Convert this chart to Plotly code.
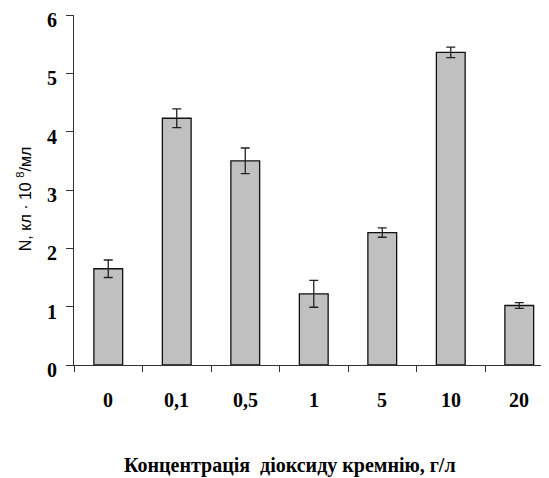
import plotly.graph_objects as go

categories = ["0", "0,1", "0,5", "1", "5", "10", "20"]
values = [1.65, 4.23, 3.50, 1.22, 2.27, 5.36, 1.02]
errors = [0.15, 0.16, 0.22, 0.23, 0.08, 0.09, 0.05]
y_ticks = [0, 1, 2, 3, 4, 5, 6]

# page body has an 8px margin, so the figure is 8px smaller and offset
fig = go.Figure()
fig.add_trace(go.Bar(
    x=list(range(len(categories))),
    y=values,
    width=0.42,
    marker=dict(color="#c0c0c0", line=dict(color="#111111", width=1.3)),
    error_y=dict(type="data", array=errors, visible=True, color="#222222",
                 thickness=1.3, width=4.5),
))

fig.update_layout(
    width=541, height=470,
    margin=dict(l=66, r=0, t=7, b=113),
    paper_bgcolor="white", plot_bgcolor="white",
    showlegend=False,
    xaxis=dict(
        range=[-0.5, 6.434],
        tickmode="array", tickvals=[-0.5, 0.5, 1.5, 2.5, 3.5, 4.5, 5.5, 6.5],
        ticktext=[""] * 8,
        ticks="outside", ticklen=6, tickwidth=1, tickcolor="#333333",
        showline=True, linecolor="#333333", linewidth=1.3,
        showgrid=False, zeroline=False, fixedrange=True, automargin=False,
    ),
    yaxis=dict(
        range=[0, 6],
        tickmode="array", tickvals=y_ticks, ticktext=[""] * len(y_ticks),
        ticks="outside", ticklen=7, tickwidth=1, tickcolor="#333333",
        showline=True, linecolor="#333333", linewidth=1.3,
        showgrid=False, zeroline=False, automargin=False,
    ),
)

for v in y_ticks:
    fig.add_annotation(x=0, y=v, xref="paper", yref="y", xanchor="right",
                       xshift=-15, yshift=-5, text="<b>%d</b>" % v, showarrow=False,
                       font=dict(family="Liberation Serif", size=20, color="black"))

for i, c in enumerate(categories):
    fig.add_annotation(x=i, y=0, xref="x", yref="y", yshift=-35,
                       text="<b>%s</b>" % c, showarrow=False,
                       font=dict(family="Liberation Serif", size=20, color="black"))

fig.add_annotation(x=0.455, y=-0.286, xref="paper", yref="paper",
                   xanchor="center", yanchor="middle",
                   text="<b>Концентрація  діоксиду кремнію, г/л</b>", showarrow=False,
                   font=dict(family="Liberation Serif", size=20, color="black"))

fig.add_annotation(x=-0.105, y=0.474, xref="paper", yref="paper",
                   xanchor="center", yanchor="middle", textangle=-90,
                   text="N, кл · 10 <sup>8</sup>/мл", showarrow=False,
                   font=dict(family="Liberation Sans", size=16, color="black"))

fig.write_html("out.html")
